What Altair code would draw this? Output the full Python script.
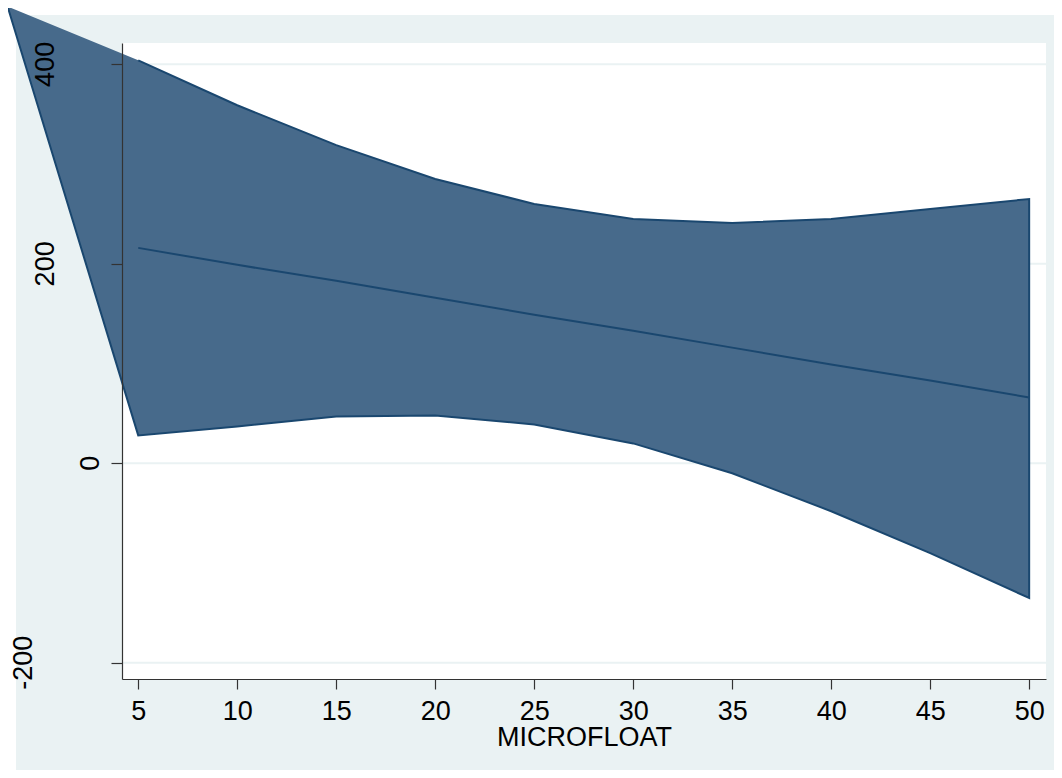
import altair as alt
import pandas as pd

# ---- data ----
x_vals = [5, 10, 15, 20, 25, 30, 35, 40, 45, 50]
upper = [404, 359, 319, 285, 260, 245, 241, 245, 255, 265]
lower = [28, 37, 47, 48, 39, 20, -10, -48, -90, -135]
fit = [216, 199, 183, 166, 149, 133, 116, 99, 83, 66]
stray_x = [-1.6]      # stray polygon vertex drawn by the original
stray_y = [458]
x_ticks = [5, 10, 15, 20, 25, 30, 35, 40, 45, 50]
y_ticks = [-200, 0, 200, 400]
y_labels = ["-200", "0", "200", "400"]
x_title = "MICROFLOAT"

W, H = 924, 636
FONT = "Liberation Sans"
FS = 27
LINE = "#1a476f"
FILL = "#476a8b"
BG = "#EAF2F3"

xscale = alt.Scale(domain=[4.18, 50.85], nice=False, zero=False)
yscale = alt.Scale(domain=[-216.2, 421.4], nice=False, zero=False)

xaxis = alt.Axis(values=x_ticks, grid=False, labelFont=FONT, labelFontSize=FS,
                 labelColor="black", labelBaseline="alphabetic", labelPadding=30,
                 labelFlush=False, labelOverlap=False,
                 tickSize=10, tickColor="#333333", tickWidth=1.2,
                 domainColor="#333333", domainWidth=1.2,
                 title=x_title, titleFont=FONT, titleFontSize=FS, titleFontWeight="normal",
                 titleColor="black", titleBaseline="alphabetic", titleY=66, titleX=W / 2,
                 titleAlign="center", zindex=1)
yaxis = alt.Axis(values=y_ticks, grid=False, labels=False, tickSize=11,
                 tickColor="#333333", tickWidth=1.2, domainColor="#333333",
                 domainWidth=1.2, title=None, zindex=1)

one = pd.DataFrame({"a": [0]})
band_df = pd.DataFrame({"x": stray_x + x_vals, "hi": stray_y + upper, "lo": stray_y + lower})
outline_df = pd.DataFrame({
    "x": x_vals + x_vals[::-1] + stray_x,
    "y": upper + lower[::-1] + stray_y,
})
outline_df["o"] = range(len(outline_df))
fit_df = pd.DataFrame({"x": x_vals, "y": fit})
grid_df = pd.DataFrame({"v": y_ticks})
lab_df = pd.DataFrame({"v": y_ticks, "t": y_labels})

bg = alt.Chart(one).mark_rect(color=BG).encode(
    x=alt.value(-106), x2=alt.value(960), y=alt.value(-28), y2=alt.value(760))
plotbg = alt.Chart(one).mark_rect(color="white").encode(
    x=alt.value(0), x2=alt.value(W), y=alt.value(0), y2=alt.value(H))

grid = alt.Chart(grid_df).mark_rule(color=BG, strokeWidth=2).encode(
    y=alt.Y("v:Q", scale=yscale, axis=yaxis), x=alt.value(0), x2=alt.value(W))

band = alt.Chart(band_df).mark_area(color=FILL, opacity=1).encode(
    x=alt.X("x:Q", scale=xscale, axis=xaxis),
    y=alt.Y("hi:Q", scale=yscale, axis=yaxis),
    y2="lo:Q")

outline = alt.Chart(outline_df).mark_line(color=LINE, strokeWidth=2).encode(
    x=alt.X("x:Q", scale=xscale, axis=xaxis),
    y=alt.Y("y:Q", scale=yscale, axis=yaxis),
    order="o:Q")

fitline = alt.Chart(fit_df).mark_line(color=LINE, strokeWidth=2).encode(
    x=alt.X("x:Q", scale=xscale, axis=xaxis),
    y=alt.Y("y:Q", scale=yscale, axis=yaxis))

ylab = alt.Chart(lab_df).transform_calculate(
    px="-30.8 - 22.5 * (length(datum.t) - 1)"
).mark_text(angle=270, font=FONT, fontSize=FS, color="black",
            align="center", baseline="middle").encode(
    x=alt.X("px:Q", scale=None, axis=None),
    y=alt.Y("v:Q", scale=yscale, axis=yaxis),
    text="t:N")

chart = alt.layer(bg, plotbg, grid, band, outline, fitline, ylab).properties(
    width=W, height=H,
    autosize=alt.AutoSizeParams(type="none"),
    padding={"left": 114, "top": 35, "right": 8, "bottom": 91},
    background="white",
).configure_view(stroke=None)

chart.save("out.html", embed_options={"renderer": "svg", "actions": False})
